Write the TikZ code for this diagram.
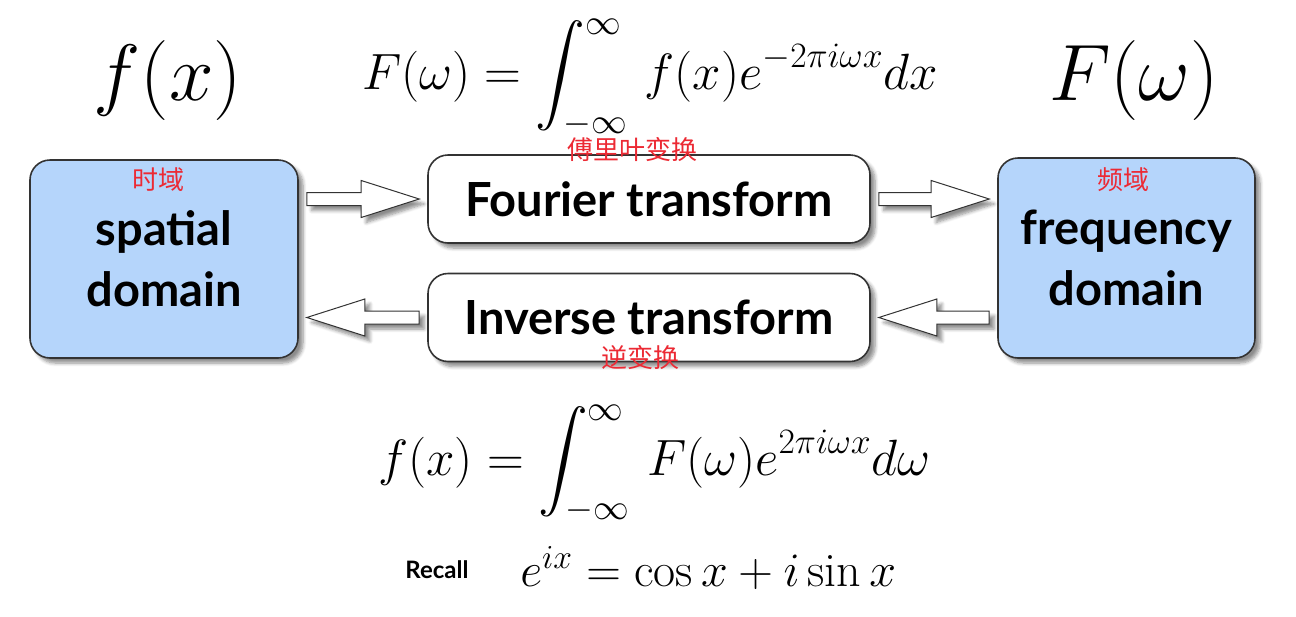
\RequirePackage{fix-cm}
\documentclass[tikz,border=0pt]{standalone}
\usepackage{amsmath}
\usepackage{fontspec}
\setsansfont{Lato}
\newfontfamily\cjk{Noto Sans CJK SC}
\usepackage{xcolor}
\usepackage{tikz}
\usetikzlibrary{calc,shadows.blur}
\definecolor{domainblue}{HTML}{B5D5FB}
\definecolor{labelred}{HTML}{EC2A34}

% block arrow from #1 to #2 (horizontal)
\newcommand\fatarrow[2]{%
  \path[fat arrow] let \p1=(#1), \p2=(#2), \n1={sign(\x2-\x1)} in
    ({\x1+\n1*4pt},{\y2+3.25pt}) -- ({\x2-\n1*33pt},{\y2+3.25pt}) --
    ({\x2-\n1*33pt},{\y2+9.25pt}) -- ({\x2-\n1*4pt},\y2) --
    ({\x2-\n1*33pt},{\y2-9.25pt}) -- ({\x2-\n1*33pt},{\y2-3.25pt}) --
    ({\x1+\n1*4pt},{\y2-3.25pt}) -- cycle;}

\begin{document}
\begin{tikzpicture}[x=0.5pt,y=-0.5pt,
  box shadow/.style={blur shadow={shadow xshift=2.5pt,shadow yshift=-2.5pt,shadow blur steps=6,shadow opacity=45}},
  domain node/.style={draw=black!80,line width=0.8pt,fill=domainblue,rounded corners=10pt,box shadow,inner sep=0pt,
    align=center,font=\sffamily\bfseries\fontsize{23.5}{30.5}\selectfont},
  transform node/.style={draw=black!80,line width=0.8pt,fill=white,rounded corners=10pt,box shadow,inner sep=0pt,
    minimum width=221pt,minimum height=44pt,font=\sffamily\bfseries\fontsize{23.5}{28}\selectfont},
  fat arrow/.style={draw=black!80,line width=0.5pt,fill=white,box shadow},
  cn label/.style={text=labelred,inner sep=0pt,font=\cjk\fontsize{13}{15}\selectfont},
  formula/.style={inner sep=0pt,font=\fontsize{25.5}{30}\selectfont}]
  \useasboundingbox (0,0) rectangle (1296,616);

  \node[domain node,minimum width=134pt,minimum height=99pt] (spatial) at (164,259) {spatial\\domain};
  \node[domain node,minimum width=128.5pt,minimum height=100pt] (frequency) at (1126.5,258) {frequency\\domain};
  \node[transform node] (fourier) at (649,199) {Fourier transform};
  \node[transform node] (inverse) at (649,317.5) {Inverse transform};

  \fatarrow{spatial.east |- fourier.west}{fourier.west}
  \fatarrow{fourier.east}{frequency.west |- fourier.east}
  \fatarrow{frequency.west |- inverse.east}{inverse.east}
  \fatarrow{inverse.west}{spatial.east |- inverse.west}

  \node[cn label] (spatial cn) at (158,180) {时域};
  \node[cn label] (frequency cn) at (1123,180) {频域};
  \node[cn label] (fourier cn) at (632,150) {傅里叶变换};
  \node[cn label] (inverse cn) at (640,358) {逆变换};

  \node[formula,anchor=base,font=\fontsize{40}{48}\selectfont] (fx) at (168,100) {$f(x)$};
  \node[formula,anchor=base,font=\fontsize{40}{48}\selectfont] (Fw) at (1134,100) {$F(\omega)$};
  \node[formula,anchor=base west] (forward) at (362,89)
    {$F(\omega)=\displaystyle\int_{-\infty}^{\infty}\, f(x)e^{-2\pi i\omega x}dx$};
  \node[formula,anchor=base west] (backward) at (378,475)
    {$f(x)=\displaystyle\int_{-\infty}^{\infty}\, F(\omega)e^{2\pi i\omega x}d\omega$};
  \node[inner sep=0pt,anchor=base west,font=\sffamily\bfseries\fontsize{12}{14}\selectfont] (recall) at (405,578) {Recall};
  \node[formula,anchor=base west,font=\fontsize{24}{28}\selectfont] (euler) at (520,586) {$e^{ix}=\cos x+i\sin x$};
\end{tikzpicture}
\end{document}
